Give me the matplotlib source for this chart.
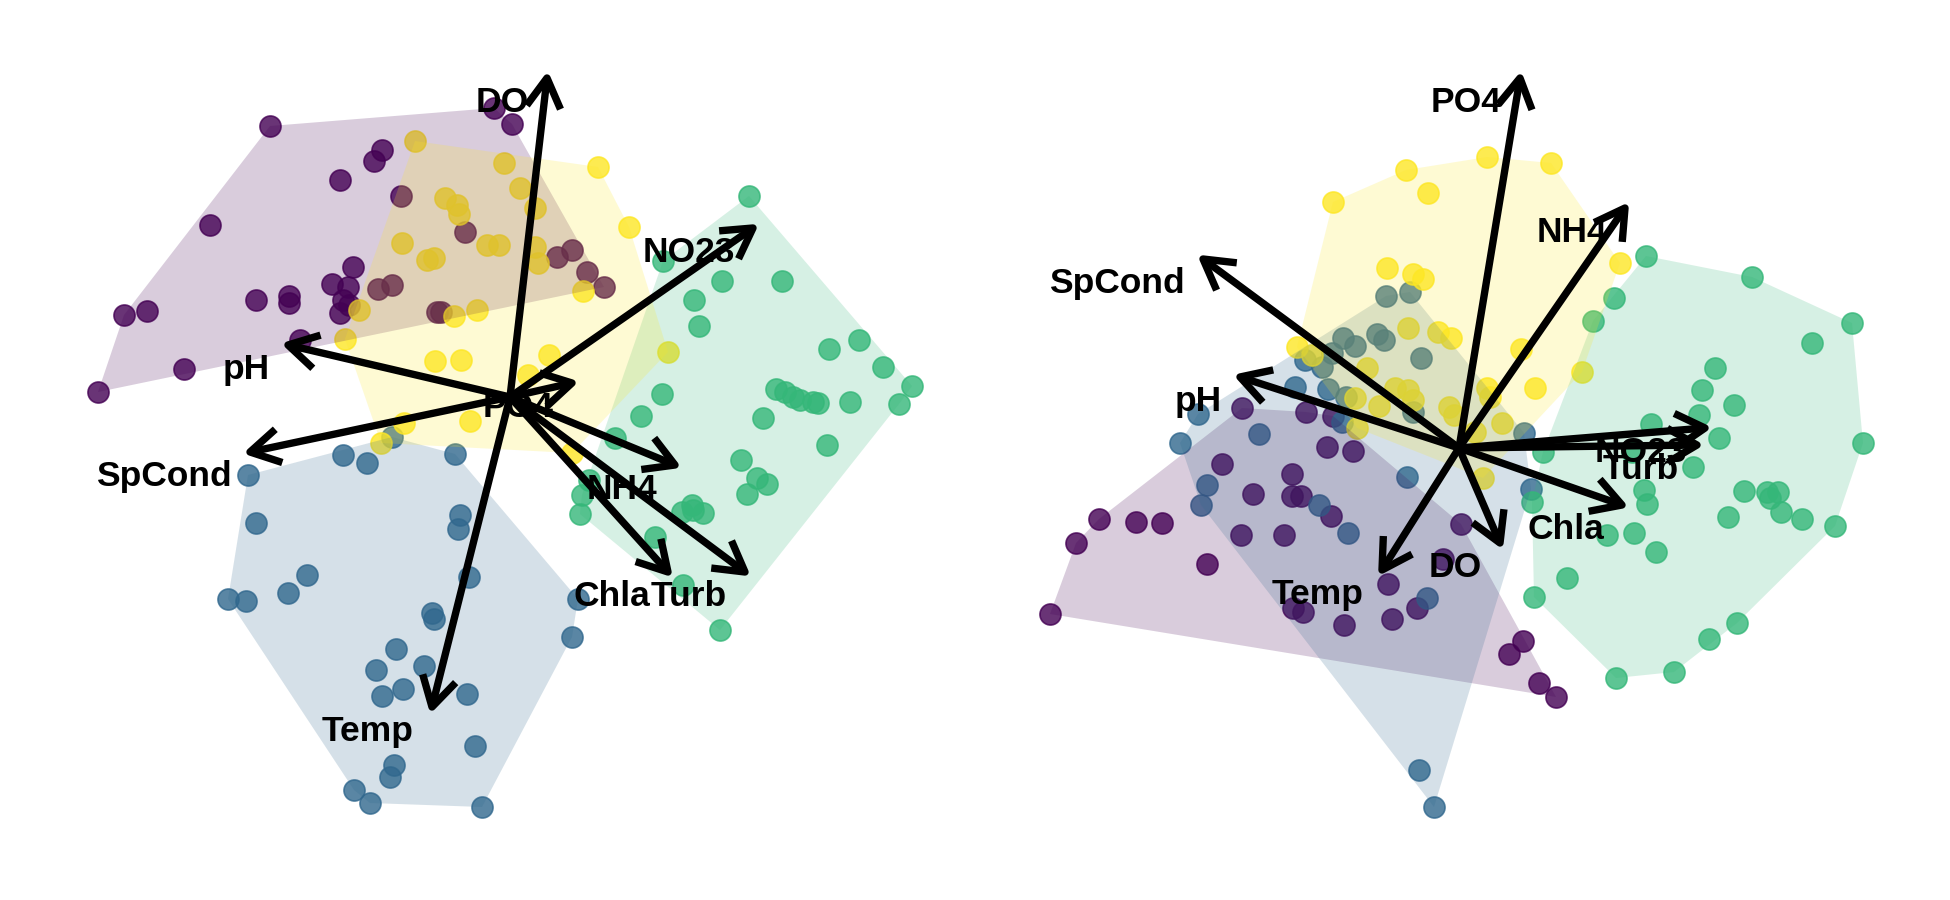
import numpy as np
import matplotlib
matplotlib.use("Agg")
import matplotlib.pyplot as plt
from matplotlib.patches import Polygon

plt.rcParams['font.family'] = ['Liberation Sans', 'DejaVu Sans']

groups = ["G1", "G2", "G3", "G4"]
group_colors = ["#440154", "#31688E", "#35B779", "#FDE725"]
variables = ["Temp", "SpCond", "pH", "DO", "Turb", "Chla", "NO23", "NH4", "PO4"]

# ---------------- Panel A (left) scores ----------------
a_g1_x = [-2.40, -0.16, 0.02, -1.28, -1.36, -1.70, -1.09, -3.00, -1.57, -1.78, -1.62, -1.67, -1.70,
          -2.21, -2.21, -2.54, -3.86, -3.63, -3.26, -4.12, -2.10, -1.32, -1.18, -0.45, -0.73, -0.69,
          0.62, 0.47, 0.77, 0.94, -1.61]
a_g1_y = [2.71, 2.89, 2.73, 2.47, 2.36, 2.17, 2.01, 1.72, 1.30, 1.13, 1.10, 0.97, 0.84,
          1.01, 0.94, 0.97, 0.82, 0.86, 0.28, 0.05, 0.57, 1.08, 1.12, 1.65, 0.85, 0.85,
          1.47, 1.40, 1.25, 1.10, 0.92]
a_g2_x = [-1.18, -1.67, -1.43, -0.55, -2.62, -2.54, -0.50, -0.52, -2.03, -2.22, -2.82, -2.64, -0.41,
          -0.78, -0.76, -1.14, -1.34, -0.86, -1.07, -1.28, -0.43, -0.35, -1.16, -1.20, -1.56, -1.40,
          -0.28, 0.68, 0.62]
a_g2_y = [-0.40, -0.58, -0.66, -0.57, -0.78, -1.26, -1.18, -1.32, -1.78, -1.96, -2.02, -2.04, -1.80,
          -2.16, -2.22, -2.52, -2.73, -2.69, -2.92, -2.99, -2.97, -3.49, -3.68, -3.80, -3.93, -4.06,
          -4.10, -2.02, -2.40]
a_g3_x = [2.39, 1.53, 2.12, 2.72, 1.84, 1.89, 3.19, 3.49, 3.73, 4.02, 3.89, 3.40, 2.66, 2.75, 2.83,
          2.90, 3.03, 3.08, 1.52, 1.31, 2.53, 3.17, 1.05, 2.31, 2.47, 2.57, 2.37, 0.72, 0.70, 0.79,
          1.72, 1.82, 1.93, 1.83, 1.45, 1.73, 2.10]
a_g3_y = [2.01, 1.36, 1.16, 1.16, 0.97, 0.71, 0.48, 0.57, 0.30, 0.11, -0.07, -0.05, 0.08, 0.05, 0.00,
          -0.03, -0.05, -0.06, 0.03, -0.19, -0.21, -0.48, -0.41, -0.63, -0.81, -0.87, -0.97, -0.98,
          -1.17, -0.83, -1.15, -1.08, -1.16, -1.13, -1.40, -1.88, -2.33]
a_g4_x = [-0.95, -0.06, 0.88, -0.65, -0.53, -0.51, 0.10, 0.25, -1.08, -0.83, -0.76, -0.23, -0.11,
          0.25, 0.28, 1.19, 0.73, -1.51, -1.65, -0.56, -0.33, -0.75, -0.49, 0.39, 0.18, 1.58, -0.40,
          -1.06, -1.29, 0.62]
a_g4_y = [2.56, 2.34, 2.30, 1.99, 1.92, 1.83, 2.09, 1.89, 1.54, 1.37, 1.39, 1.52, 1.52,
          1.50, 1.34, 1.70, 1.06, 0.87, 0.58, 0.81, 0.87, 0.36, 0.37, 0.42, 0.22, 0.45, -0.24,
          -0.26, -0.46, -0.56]
a_load_x = [-0.78, -2.60, -2.22, 0.37, 2.35, 1.58, 2.43, 1.65, 0.62]
a_load_y = [-3.10, -0.55, 0.52, 3.19, -1.75, -1.75, 1.69, -0.68, 0.14]

# ---------------- Panel B (right) scores ----------------
b_g1_x = [-2.17, -1.53, -1.26, -1.32, -1.06, -2.37, -1.67, -2.06, -1.67, -1.58, -1.28, -3.60, -3.23,
          -2.97, -3.83, -2.18, -1.75, -2.52, -4.09, -0.71, -0.42, -1.66, -1.56, -1.15, -0.67, 0.02,
          -0.16, 0.64, 0.50, 0.80, 0.97]
b_g1_y = [0.40, 0.36, 0.32, 0.01, -0.03, -0.16, -0.26, -0.46, -0.48, -0.48, -0.68, -0.71, -0.74,
          -0.75, -0.95, -0.87, -0.87, -1.16, -1.66, -1.36, -1.60, -1.60, -1.64, -1.77, -1.71, -0.76,
          -1.11, -1.93, -2.06, -2.35, -2.49]
b_g2_x = [-0.73, -0.49, -1.16, -1.04, -0.82, -0.75, -0.38, -1.27, -1.37, -1.54, -1.31, -1.13, -0.46,
          -1.64, -2.61, -2.79, -2.00, -2.52, -2.58, -0.52, -1.17, -1.40, -1.11, -0.32, -0.40, -0.25,
          0.65, 0.72]
b_g2_y = [1.52, 1.56, 1.10, 1.02, 1.14, 1.08, 0.90, 0.95, 0.81, 0.88, 0.59, 0.51, 0.36,
          0.61, 0.34, 0.05, 0.14, -0.37, -0.57, -0.29, 0.26, -0.57, -0.85, -1.50, -3.22, -3.59,
          0.15, -0.41]
b_g3_x = [1.87, 2.93, 1.55, 1.34, 3.93, 3.53, 2.56, 2.43, 2.75, 2.40, 1.92, 2.60, 4.04, 0.84, 2.34,
          1.73, 1.85, 1.88, 2.85, 3.08, 3.19, 3.11, 3.22, 3.43, 2.69, 3.76, 0.73, 1.48, 1.75, 1.97,
          1.08, 0.75, 2.78, 2.50, 2.15, 1.57]
b_g3_y = [1.92, 1.71, 1.50, 1.27, 1.25, 1.05, 0.80, 0.58, 0.43, 0.33, 0.24, 0.10, 0.05, -0.04, -0.19,
          -0.04, -0.42, -0.56, -0.43, -0.44, -0.44, -0.50, -0.64, -0.71, -0.69, -0.78, -0.54, -0.87,
          -0.85, -1.04, -1.30, -1.49, -1.75, -1.91, -2.24, -2.30]
b_g4_x = [-0.53, -0.31, -1.26, 0.28, 0.92, 1.61, -0.72, -0.46, -0.36, -0.51, -0.21, -0.08, -1.62,
          -1.47, -0.92, -1.04, -0.80, -0.64, -0.51, -0.46, -0.10, -0.05, -1.02, 0.62, 1.23, 0.76,
          0.28, 0.31, 0.43, 0.16, 0.24]
b_g4_y = [2.78, 2.55, 2.46, 2.91, 2.85, 1.85, 1.80, 1.74, 1.69, 1.20, 1.16, 1.10, 1.01,
          0.93, 0.80, 0.50, 0.42, 0.60, 0.58, 0.48, 0.41, 0.33, 0.20, 0.99, 0.76, 0.60,
          0.60, 0.51, 0.25, 0.16, -0.30]
b_load_x = [-0.77, -2.56, -2.19, 0.41, 2.38, 1.63, 2.46, 1.66, 0.61]
b_load_y = [-1.22, 1.89, 0.71, -0.95, 0.03, -0.57, 0.20, 2.40, 3.70]


def convex_hull(xs, ys):
    pts = sorted(set(zip(xs, ys)))
    if len(pts) < 3:
        return pts

    def cross(o, a, b):
        return (a[0] - o[0]) * (b[1] - o[1]) - (a[1] - o[1]) * (b[0] - o[0])

    lower = []
    for p in pts:
        while len(lower) >= 2 and cross(lower[-2], lower[-1], p) <= 0:
            lower.pop()
        lower.append(p)
    upper = []
    for p in reversed(pts):
        while len(upper) >= 2 and cross(upper[-2], upper[-1], p) <= 0:
            upper.pop()
        upper.append(p)
    return lower[:-1] + upper[:-1]


def draw_panel(ax, score_sets, load_x, load_y, xlim, ylim):
    for (xs, ys), col in zip(score_sets, group_colors):
        ax.scatter(xs, ys, s=230, color=col, alpha=0.8, edgecolors=col,
                   linewidths=1.2, zorder=1)
    for (xs, ys), col in zip(score_sets, group_colors):
        hull = convex_hull(xs, ys)
        ax.add_patch(Polygon(hull, closed=True, facecolor=col, alpha=0.2,
                             edgecolor='none', zorder=2))
    head_len = 0.34
    ang = np.deg2rad(30)
    for name, lx, ly in zip(variables, load_x, load_y):
        ax.annotate(name, xy=(lx, ly), xytext=(-13, -6), textcoords='offset points',
                    ha='right', va='top', fontsize=25.5, fontweight='bold', zorder=3)
        ax.plot([0, lx], [0, ly], color='black', lw=5.3, solid_capstyle='butt', zorder=4)
        th = np.arctan2(ly, lx) + np.pi
        bx1 = lx + head_len * np.cos(th + ang)
        by1 = ly + head_len * np.sin(th + ang)
        bx2 = lx + head_len * np.cos(th - ang)
        by2 = ly + head_len * np.sin(th - ang)
        ax.plot([bx1, lx, bx2], [by1, ly, by2], color='black', lw=5.3,
                solid_capstyle='butt', solid_joinstyle='round', zorder=4)
    ax.set_xlim(*xlim)
    ax.set_ylim(*ylim)
    ax.set_axis_off()


fig = plt.figure(figsize=(19.5, 9), dpi=100)
ax1 = fig.add_axes([0, 0, 0.5, 1])
ax2 = fig.add_axes([0.5, 0, 0.5, 1])

draw_panel(ax1, [(a_g1_x, a_g1_y), (a_g2_x, a_g2_y), (a_g3_x, a_g3_y), (a_g4_x, a_g4_y)],
           a_load_x, a_load_y, (-5.10, 4.65), (-5.03, 3.97))
draw_panel(ax2, [(b_g1_x, b_g1_y), (b_g2_x, b_g2_y), (b_g3_x, b_g3_y), (b_g4_x, b_g4_y)],
           b_load_x, b_load_y, (-4.84, 4.91), (-4.52, 4.48))

fig.savefig("out.png", dpi=100, facecolor='white')
